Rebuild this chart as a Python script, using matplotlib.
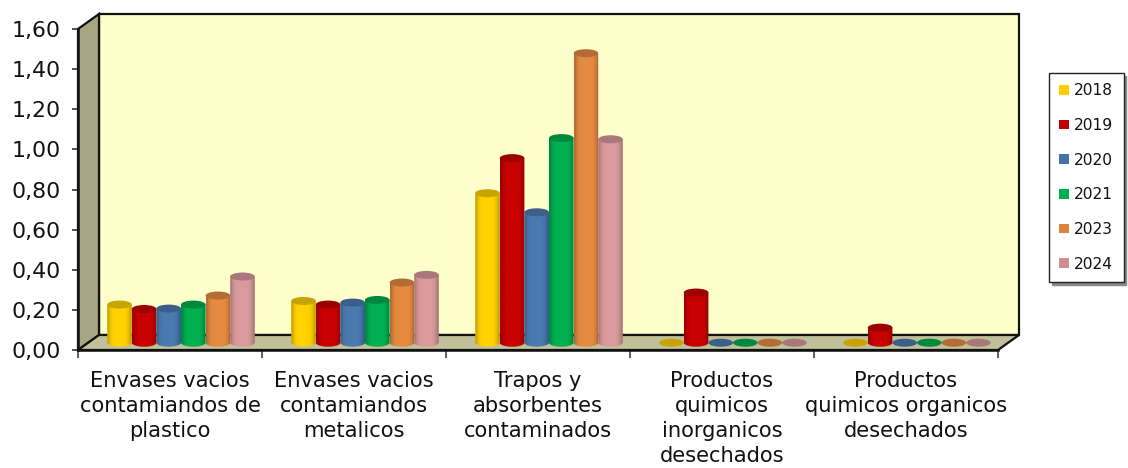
import numpy as np
import matplotlib
matplotlib.use("Agg")
import matplotlib.pyplot as plt
from matplotlib.colors import to_rgb, LinearSegmentedColormap
from matplotlib.patches import Polygon, PathPatch, Ellipse, Patch
from matplotlib.path import Path
from matplotlib.transforms import Affine2D, IdentityTransform

plt.rcParams['font.family'] = ['DejaVu Sans']

categories = ['Envases vacios\ncontamiandos de\nplastico',
              'Envases vacios\ncontamiandos\nmetalicos',
              'Trapos y\nabsorbentes\ncontaminados',
              'Productos\nquimicos\ninorganicos\ndesechados',
              'Productos\nquimicos organicos\ndesechados']
years = ['2018', '2019', '2020', '2021', '2023', '2024']
colors = ['#FFD200', '#C80000', '#4A7AB0', '#00B050', '#E68A42', '#DA9A9C']
legend_colors = ['#FFCC00', '#C00000', '#4573A7', '#00B050', '#DF843C', '#D09090']

v2018 = [0.19, 0.208, 0.745, 0, 0]
v2019 = [0.168, 0.19, 0.92, 0.25, 0.075]
v2020 = [0.17, 0.20, 0.65, 0, 0]
v2021 = [0.19, 0.213, 1.02, 0, 0]
v2023 = [0.235, 0.30, 1.443, 0, 0]
v2024 = [0.33, 0.338, 1.014, 0, 0]
series = [v2018, v2019, v2020, v2021, v2023, v2024]

yticks = [0, 0.2, 0.4, 0.6, 0.8, 1.0, 1.2, 1.4, 1.6]

W, H = 1128, 468
fig = plt.figure(figsize=(W / 100, H / 100), dpi=100, facecolor='white')
ax = fig.add_axes([78 / W, (H - 350) / H, 920 / W, 321 / H])
ax.patch.set_visible(False)


def px(x, y):
    return (x, H - y)


# 3d box, drawn in pixels behind the axes
def box_part(pts, fc, z):
    p = Polygon([px(*q) for q in pts], closed=True, facecolor=fc, edgecolor='#111111',
                linewidth=1.6, transform=IdentityTransform(), clip_on=False, zorder=z)
    ax.add_patch(p)


box_part([(99, 14), (1019, 14), (1019, 335), (99, 335)], '#FFFFCC', 1)
box_part([(78, 29), (99, 14), (99, 335), (78, 350)], '#A6A683', 1.1)
box_part([(78, 350), (99, 335), (1019, 335), (998, 350)], '#C0C09A', 1.1)

ax.set_xlim(0, 5)
ax.set_ylim(0, 1.6)
for s in ['top', 'right']:
    ax.spines[s].set_visible(False)
for s in ['left', 'bottom']:
    ax.spines[s].set_linewidth(1.8)
    ax.spines[s].set_color('#111111')
    ax.spines[s].set_zorder(5)

ax.set_yticks(yticks)
ax.set_yticklabels([('%.2f' % t).replace('.', ',') for t in yticks])
ax.yaxis.set_tick_params(labelsize=15.8, length=4.5, width=1.1, pad=8, color='#222222')
for lab in ax.get_yticklabels():
    lab.set_color('#111111')
ax.set_xticks(range(6))
ax.set_xticklabels([])
ax.xaxis.set_tick_params(length=5.5, width=1.1, color='#333333')
ax.set_xticks(np.arange(5) + 0.5, minor=True)
ax.set_xticklabels(categories, minor=True, fontsize=15.1, color='#111111', linespacing=1.31)
ax.xaxis.set_tick_params(which='minor', length=0, pad=15)

# bars stand in the middle of the floor
shift = Affine2D().translate(11, 7.3)
tr = ax.transData + shift
bar_w = 24.6 / 184
ell_h = 8 / 200.6

grad = np.array([0.58, 0.84, 0.97, 1.0, 1.0, 1.0, 1.0, 1.0, 0.96, 0.82, 0.55])
for i, vals in enumerate(series):
    rgb = np.array(to_rgb(colors[i]))
    cmap = LinearSegmentedColormap.from_list('c%d' % i, [rgb * 0.5, rgb])
    top_col = tuple(rgb * 0.78)
    for g, v in enumerate(vals):
        x0 = g + 0.5 + (i - 3) * bar_w
        x1 = x0 + bar_w
        xc = x0 + bar_w / 2
        z = 3 + i * 0.1
        if v > 0:
            t = np.linspace(np.pi, 2 * np.pi, 30)
            ex = xc + np.cos(t) * bar_w / 2
            ey = np.sin(t) * ell_h / 2
            verts = np.column_stack([np.r_[x0, ex, x1], np.r_[v, ey, v]])
            clip = PathPatch(Path(np.vstack([verts, verts[0]])), transform=tr)
            im = ax.imshow(grad[None, :], extent=[x0, x1, -ell_h, v], aspect='auto',
                           cmap=cmap, vmin=0, vmax=1, interpolation='bilinear',
                           origin='lower', zorder=z)
            im.set_transform(tr)
            im.set_clip_path(clip)
        ax.add_patch(Ellipse((xc, v), bar_w, ell_h, facecolor=top_col, edgecolor='none',
                             transform=tr, zorder=z + 0.01))

ax.set_xlim(0, 5)
ax.set_ylim(0, 1.6)

handles = [Patch(facecolor=c, edgecolor='none') for c in legend_colors]
leg = fig.legend(handles, years, loc='upper left', bbox_to_anchor=(1049 / W, (H - 73) / H),
                 fontsize=11.2, frameon=True, fancybox=False, edgecolor='#222222',
                 framealpha=1, borderaxespad=0, borderpad=0.66, labelspacing=1.265,
                 handlelength=0.6, handleheight=0.6, handletextpad=0.35,
                 shadow={'ox': 2, 'oy': -2, 'color': '#888888', 'alpha': 1})
leg.get_frame().set_linewidth(1.0)
for txt in leg.get_texts():
    txt.set_color('#111111')

fig.savefig('out.png', dpi=100)
